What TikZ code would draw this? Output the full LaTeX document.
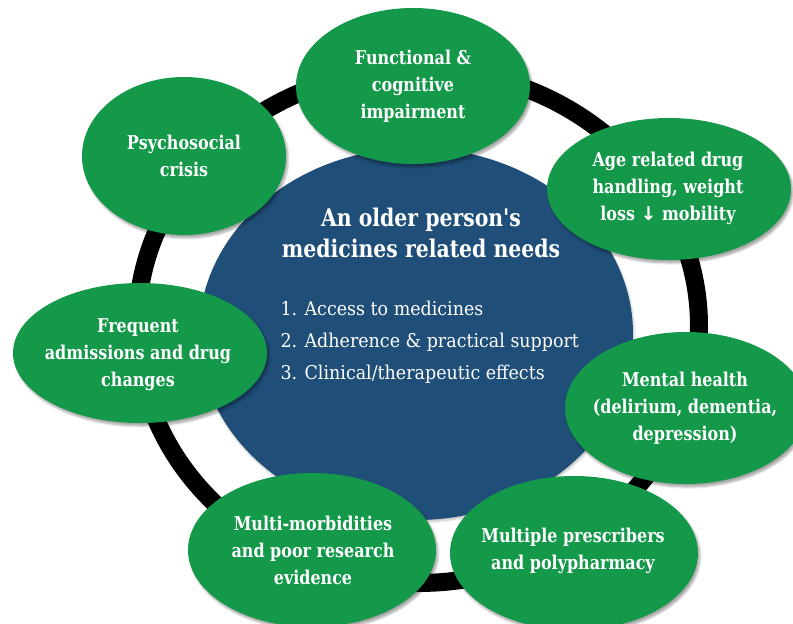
\documentclass[tikz,border=0pt]{standalone}
\usepackage{fontspec}
\setmainfont{DejaVu Serif}[FakeStretch=0.84, Ligatures=TeXOff]
\newfontfamily\listfont{DejaVu Serif}[FakeStretch=0.92]
\newfontfamily\arrowfont{DejaVu Sans}
\usetikzlibrary{shapes.geometric,shadows.blur}

\definecolor{leafgreen}{HTML}{149849}
\definecolor{deepblue}{HTML}{1F4E79}

\tikzset{
  needbubble/.style={ellipse, fill=leafgreen, inner sep=0pt,
    blur shadow={shadow xshift=2pt, shadow yshift=-3pt, shadow blur steps=6, shadow opacity=35}},
  bubbletext/.style={text=white, align=center, font=\bfseries\fontsize{19}{27}\selectfont},
  hubtitle/.style={text=white, align=center, font=\bfseries\fontsize{24.3}{31}\selectfont},
  hublist/.style={text=white, align=left, font=\listfont\fontsize{19}{32}\selectfont},
}

\begin{document}
\begin{tikzpicture}[x=1pt, y=-1pt]
  \useasboundingbox (0,0) rectangle (793,624);
  \clip (0,0) rectangle (793,624);

  % linking ring behind everything
  \draw[line width=18pt] (418,326) ellipse [x radius=281pt, y radius=257pt];

  % central hub
  \node[ellipse, fill=deepblue, inner sep=0pt, minimum width=434pt, minimum height=372pt,
        blur shadow={shadow xshift=1pt, shadow yshift=-2pt, shadow blur steps=5, shadow opacity=25}]
        (hub) at (416,334) {};
  \node[hubtitle] (hubtitle) at (421,233) {An older person's\\medicines related needs};
  \node[hublist, anchor=west] (hublist) at (277,342)
    {1. Access to medicines\\2. Adherence \& practical support\\3. Clinical/therapeutic effects};

  % surrounding needs
  \node[needbubble, minimum width=234pt, minimum height=156pt] (functional) at (413,86) {};
  \node[needbubble, minimum width=204pt, minimum height=158pt] (psycho) at (184,156) {};
  \node[needbubble, minimum width=244pt, minimum height=142pt] (age) at (669,189) {};
  \node[needbubble, minimum width=254pt, minimum height=140pt] (frequent) at (140,353) {};
  \node[needbubble, minimum width=248pt, minimum height=154pt] (prescribers) at (574,553) {};
  \node[needbubble, minimum width=242pt, minimum height=152pt] (mental) at (686,408) {};
  \node[needbubble, minimum width=248pt, minimum height=154pt] (multi) at (312,550) {};

  \node[bubbletext] at (functional) {Functional \&\\cognitive\\impairment};
  \node[bubbletext] at (psycho) {Psychosocial\\crisis};
  \node[bubbletext] at (668,188) {Age related drug\\handling, weight\\loss {\arrowfont ↓} mobility};
  \node[bubbletext] at (138,355) {Frequent\\admissions and drug\\changes};
  \node[bubbletext] at (685,408) {Mental health\\(delirium, dementia,\\depression)};
  \node[bubbletext] at (313,550) {Multi-morbidities\\and poor research\\evidence};
  \node[bubbletext] at (573,551) {Multiple prescribers\\and polypharmacy};
\end{tikzpicture}
\end{document}
